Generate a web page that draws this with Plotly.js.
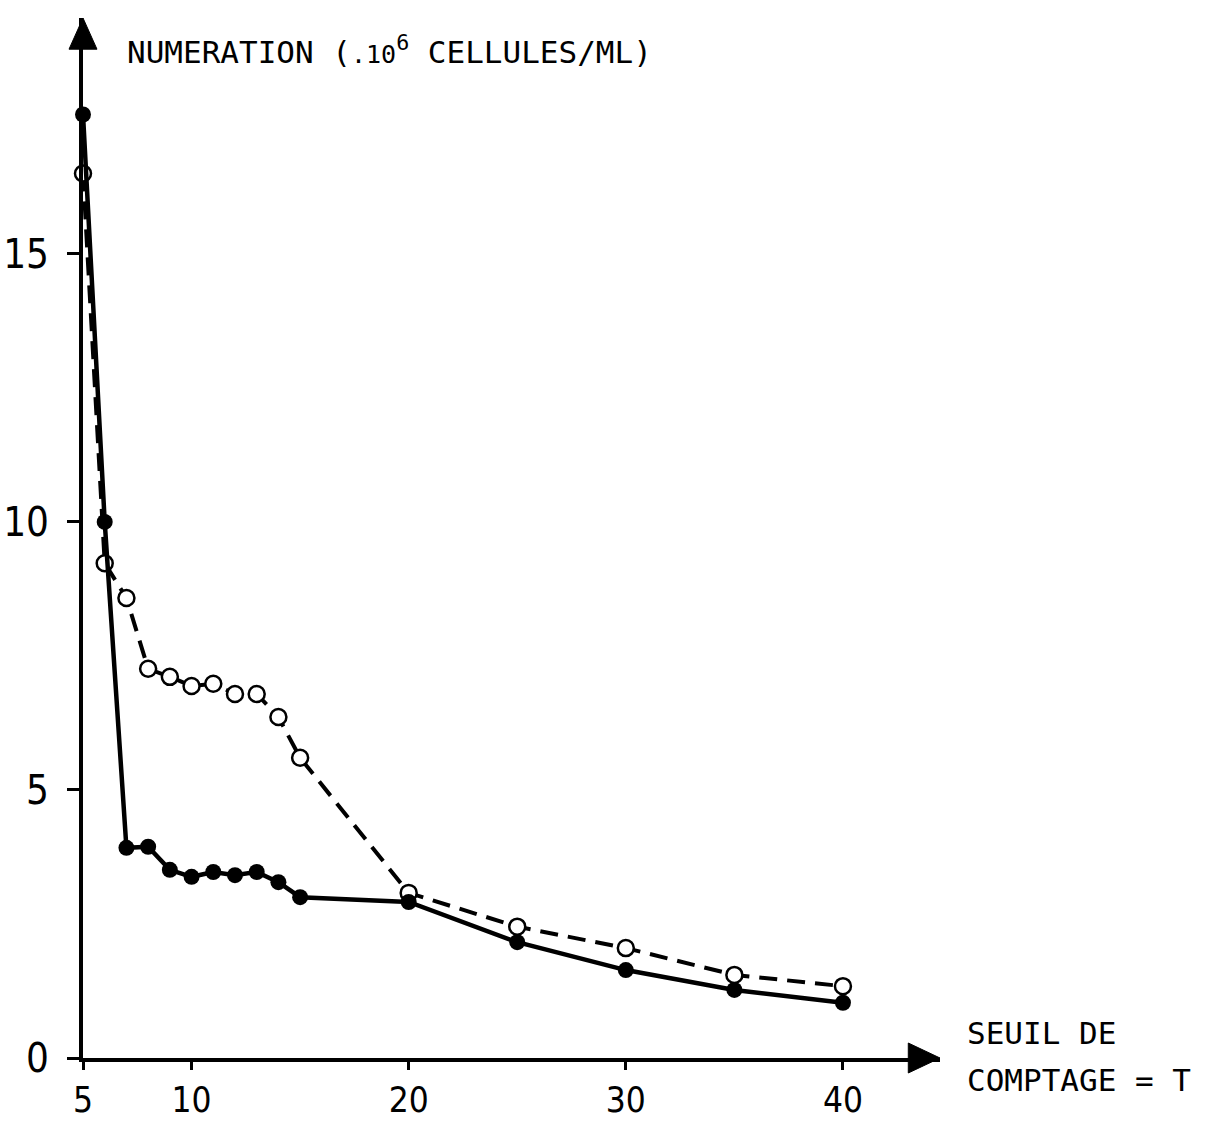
<!DOCTYPE html>
<html>
<head>
<meta charset="utf-8">
<script src="https://cdn.plot.ly/plotly-3.0.1.min.js"></script>
<style>
html,body{margin:0;padding:0;background:#fff;}
#chart{width:1209px;height:1125px;}
</style>
</head>
<body>
<div id="chart"></div>
<script>
// Counting threshold T
const thresholds = [5, 6, 7, 8, 9, 10, 11, 12, 13, 14, 15, 20, 25, 30, 35, 40];
// Filled circles, solid line (10^6 cells/mL)
const countsSolid = [17.6, 10.0, 3.92, 3.94, 3.51, 3.38, 3.47, 3.41, 3.47, 3.28, 3.0, 2.91, 2.16, 1.64, 1.27, 1.03];
// Open circles, dashed line (10^6 cells/mL)
const countsOpen = [16.5, 9.23, 8.58, 7.26, 7.11, 6.94, 6.98, 6.79, 6.79, 6.36, 5.6, 3.08, 2.45, 2.05, 1.55, 1.34];
const xTicks = [5, 10, 20, 30, 40];
const yTicks = [0, 5, 10, 15];

const tickFontX = {family: "Liberation Sans Narrow, DejaVu Sans Condensed, sans-serif", size: 35, color: "#000"};
const tickFontY = {family: "Liberation Sans Narrow, DejaVu Sans Condensed, sans-serif", size: 40, color: "#000"};
const labelFont = {family: "DejaVu Sans Mono, Liberation Mono, monospace", size: 31, color: "#000"};

const traces = [
  {
    x: thresholds, y: countsOpen, type: "scatter", mode: "lines+markers",
    line: {color: "#000", width: 4, dash: "18px,10px"},
    marker: {symbol: "circle", size: 16, color: "#fff", line: {color: "#000", width: 2.5}},
    cliponaxis: false, showlegend: false
  },
  {
    x: thresholds, y: countsSolid, type: "scatter", mode: "lines+markers",
    line: {color: "#000", width: 4.5},
    marker: {symbol: "circle", size: 16, color: "#000"},
    cliponaxis: false, showlegend: false
  }
];

const layout = {
  width: 1209, height: 1125,
  margin: {l: 83, r: 269, t: 18, b: 67},
  paper_bgcolor: "#fff", plot_bgcolor: "#fff",
  showlegend: false,
  xaxis: {
    range: [5, 44.47], tickvals: xTicks, ticktext: xTicks.map(String),
    showline: true, linewidth: 4, linecolor: "#000",
    ticks: "outside", ticklen: 8, tickwidth: 3, tickcolor: "#000",
    showgrid: false, zeroline: false, tickfont: tickFontX,
    ticklabelstandoff: 0
  },
  yaxis: {
    range: [0, 19.4], tickvals: yTicks, ticktext: yTicks.map(String),
    showline: true, linewidth: 4, linecolor: "#000",
    ticks: "outside", ticklen: 12, tickwidth: 3, tickcolor: "#000",
    showgrid: false, zeroline: false, tickfont: tickFontY,
    ticklabelstandoff: 10
  },
  shapes: [
    {type: "path", xref: "paper", yref: "paper",
     path: "M -0.0163 0.970 L 0 1.0 L 0.0163 0.970 Z",
     fillcolor: "#000", line: {color: "#000", width: 1}},
    {type: "path", xref: "paper", yref: "paper",
     path: "M 0.963 0.0144 L 1.0 0 L 0.963 -0.0144 Z",
     fillcolor: "#000", line: {color: "#000", width: 1}}
  ],
  annotations: [
    {xref: "paper", yref: "paper", x: 0.049, y: 0.969, xanchor: "left", yanchor: "middle",
     showarrow: false, font: labelFont,
     text: "NUMERATION (<span style='font-size:25px'>.10</span><sup>6</sup> CELLULES/ML)"},
    {xref: "paper", yref: "paper", x: 1.029, y: 0.024, xanchor: "left", yanchor: "middle",
     showarrow: false, font: labelFont, text: "SEUIL DE"},
    {xref: "paper", yref: "paper", x: 1.029, y: -0.021, xanchor: "left", yanchor: "middle",
     showarrow: false, font: labelFont, text: "COMPTAGE = T"}
  ]
};

Plotly.newPlot("chart", traces, layout, {displayModeBar: false, staticPlot: true});
</script>
</body>
</html>
